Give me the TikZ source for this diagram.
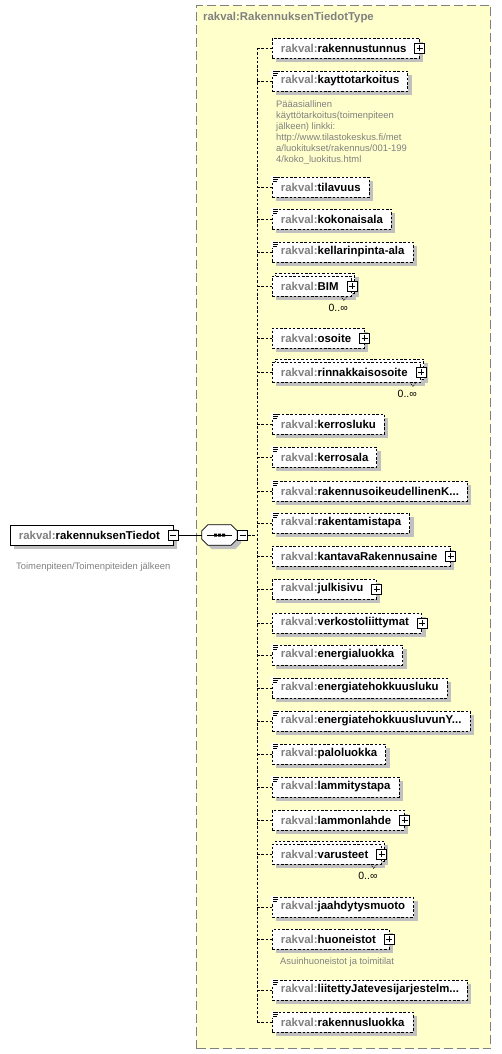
\documentclass[tikz,border=0pt]{standalone}
\usepackage{fontspec}
\setmainfont{Liberation Sans}
\usepackage{xcolor}
\usepackage{tikz}
\usetikzlibrary{positioning}
\definecolor{typebg}{RGB}{255,255,204}
\definecolor{nsgray}{RGB}{128,128,128}
\definecolor{shade}{RGB}{192,192,192}
\newcommand{\rk}{\textcolor{nsgray}{rakval:}}
\newcommand{\smark}[1]{%
  \fill[white] ([xshift=-1pt,yshift=1pt]#1.north west) rectangle ++(7,7);
  \draw[line width=0.7pt] ([xshift=1pt,yshift=-0.5pt]#1.north west) -- ++(5,0) ++(-5,2) -- ++(5,0) ++(-5,2) -- ++(4,0);}
\newcommand{\notch}[1]{%
  \draw[line width=0.6pt, dash pattern=on 1pt off 1pt] ([xshift=-11pt]#1.south east) -- ++(3,4) -- ++(3,-4);}

\begin{document}
\begin{tikzpicture}[
  x=1pt, y=-1pt,
  elfont/.style={font=\fontsize{11.4}{13.7}\selectfont\bfseries},
  docfont/.style={font=\fontsize{9.4}{11}\selectfont, text=nsgray},
  shadowed/.style={preaction={fill=shade, transform canvas={shift={(4pt,-4pt)}}}},
  elem/.style={rectangle, draw, dash pattern=on 2.5pt off 1.8pt, line width=0.8pt, fill=white, shadowed, minimum height=20pt, inner xsep=8.5pt, inner ysep=0pt, anchor=west, elfont},
  cplx/.style={execute at end node={\hspace{4.5pt}}},
  multi/.style={preaction={fill=shade, transform canvas={shift={(7pt,-1pt)}}}, preaction={draw, fill=white, transform canvas={shift={(3pt,3pt)}}}},
  rootbox/.style={rectangle, draw, line width=0.8pt, fill=white, shadowed, minimum height=20pt, inner xsep=8.5pt, inner ysep=0pt, anchor=west, elfont, cplx},
  typebox/.style={rectangle, draw=nsgray, fill=typebg, dash pattern=on 9pt off 4pt, line width=1pt, anchor=north west},
  seqbox/.style={rectangle, minimum width=35pt, minimum height=20pt, inner sep=0pt},
  octagon/.style={line width=0.8pt, fill=white, shadowed},
  pmbox/.style={rectangle, draw, solid, line width=0.8pt, fill=white, minimum size=10pt, inner sep=0pt},
  plusbox/.style={pmbox, path picture={\draw[line width=0.8pt] ([xshift=2pt]path picture bounding box.west) -- ([xshift=-2pt]path picture bounding box.east) ([yshift=2pt]path picture bounding box.south) -- ([yshift=-2pt]path picture bounding box.north);}},
  minusbox/.style={pmbox, path picture={\draw[line width=0.8pt] ([xshift=2pt]path picture bounding box.west) -- ([xshift=-2pt]path picture bounding box.east);}},
  doc/.style={anchor=north west, align=left, inner sep=0pt, docfont},
  mult/.style={anchor=north east, inner sep=0pt, font=\fontsize{10.5}{12}\selectfont},
  link/.style={dash pattern=on 2.5pt off 1.8pt, line width=0.8pt},
  wire/.style={line width=0.8pt},
]
  \useasboundingbox (0,0) rectangle (501,1054);
  \node[typebox, minimum width=294pt, minimum height=1043pt] (type) at (196,5) {};
  \node[anchor=west, elfont, text=nsgray, inner sep=0pt] (typetitle) at (203,18) {rakval:RakennuksenTiedotType};

  % root element and sequence
  \node[rootbox] (root) at (10,535) {\rk rakennuksenTiedot};
  \node[minusbox] (rootM) at (root.east) {};
  \node[doc] (rootDoc) at (16,562) {Toimenpiteen/Toimenpiteiden jälkeen};
  \node[seqbox] (seq) at (219.5,535) {};
  \draw[octagon] ([xshift=6pt]seq.north west) -- ([xshift=-6pt]seq.north east) -- ([yshift=-6pt]seq.north east)
    -- ([yshift=6pt]seq.south east) -- ([xshift=-6pt]seq.south east) -- ([xshift=6pt]seq.south west)
    -- ([yshift=6pt]seq.south west) -- ([yshift=-6pt]seq.north west) -- cycle;
  \draw[wire] ([xshift=5pt]seq.west) -- ([xshift=-5pt]seq.east);
  \fill ([xshift=-5.5pt,yshift=1.5pt]seq.center) rectangle ++(3,3) ++(1,-3) rectangle ++(3,3) ++(1,-3) rectangle ++(3,3);
  \node[minusbox, anchor=west] (seqM) at (seq.east) {};
  \coordinate (spine) at (257,535);

  % child elements
  \node[elem, cplx] (tunnus) at (272,48) {\rk rakennustunnus};
  \node[plusbox] (tunnusP) at (tunnus.east) {};
  \node[elem] (kaytto) at (272,81) {\rk kayttotarkoitus};
  \node[doc] (kayttoDoc) at (276,100) {Pääasiallinen\\käyttötarkoitus(toimenpiteen\\jälkeen) linkki:\\http://www.tilastokeskus.fi/met\\a/luokitukset/rakennus/001-199\\4/koko\_luokitus.html};
  \node[elem] (tilavuus) at (272,187) {\rk tilavuus};
  \node[elem] (kokala) at (272,219) {\rk kokonaisala};
  \node[elem] (kellari) at (272,252) {\rk kellarinpinta-ala};
  \node[elem, cplx, multi] (bim) at (272,286) {\rk BIM};
  \node[plusbox] (bimP) at (bim.east) {};
  \node[mult] (bimN) at ([xshift=-4pt,yshift=-8pt]bim.south east) {0..∞};
  \node[elem, cplx] (osoite) at (272,338) {\rk osoite};
  \node[plusbox] (osoiteP) at (osoite.east) {};
  \node[elem, cplx, multi] (rinnak) at (272,372) {\rk rinnakkaisosoite};
  \node[plusbox] (rinnakP) at (rinnak.east) {};
  \node[mult] (rinnakN) at ([xshift=-4pt,yshift=-8pt]rinnak.south east) {0..∞};
  \node[elem] (krsluku) at (272,424) {\rk kerrosluku};
  \node[elem] (krsala) at (272,457) {\rk kerrosala};
  \node[elem] (oikeus) at (272,491) {\rk rakennusoikeudellinenK...};
  \node[elem] (tapa) at (272,523) {\rk rakentamistapa};
  \node[elem, cplx] (kantava) at (272,556) {\rk kantavaRakennusaine};
  \node[plusbox] (kantavaP) at (kantava.east) {};
  \node[elem, cplx] (julki) at (272,589) {\rk julkisivu};
  \node[plusbox] (julkiP) at (julki.east) {};
  \node[elem, cplx] (verkosto) at (272,623) {\rk verkostoliittymat};
  \node[plusbox] (verkostoP) at (verkosto.east) {};
  \node[elem] (eluokka) at (272,655) {\rk energialuokka};
  \node[elem] (eluku) at (272,688) {\rk energiatehokkuusluku};
  \node[elem] (eluvun) at (272,721) {\rk energiatehokkuusluvunY...};
  \node[elem] (palo) at (272,754) {\rk paloluokka};
  \node[elem] (lammitys) at (272,787) {\rk lammitystapa};
  \node[elem, cplx] (lahde) at (272,820) {\rk lammonlahde};
  \node[plusbox] (lahdeP) at (lahde.east) {};
  \node[elem, cplx, multi] (varust) at (272,854) {\rk varusteet};
  \node[plusbox] (varustP) at (varust.east) {};
  \node[mult] (varustN) at ([xshift=-4pt,yshift=-8pt]varust.south east) {0..∞};
  \node[elem] (jaahd) at (272,907) {\rk jaahdytysmuoto};
  \node[elem, cplx] (huon) at (272,939) {\rk huoneistot};
  \node[plusbox] (huonP) at (huon.east) {};
  \node[doc] (huonDoc) at (280,957) {Asuinhuoneistot ja toimitilat};
  \node[elem] (jatevesi) at (272,990) {\rk liitettyJatevesijarjestelm...};
  \node[elem] (rluokka) at (272,1022) {\rk rakennusluokka};

  \foreach \n in {kaytto,tilavuus,kokala,kellari,krsluku,krsala,oikeus,tapa,eluokka,eluku,eluvun,palo,lammitys,jaahd,jatevesi,rluokka}
    \smark{\n};
  \notch{bim} \notch{rinnak} \notch{varust}

  % connectors
  \draw[wire] (rootM) -- (seq.west);
  \draw[link] (seqM) -- (spine);
  \draw[link] (spine |- tunnus.west) -- (spine |- rluokka.west);
  \foreach \n in {tunnus,kaytto,tilavuus,kokala,kellari,bim,osoite,rinnak,krsluku,krsala,oikeus,tapa,kantava,julki,verkosto,eluokka,eluku,eluvun,palo,lammitys,lahde,varust,jaahd,huon,jatevesi,rluokka}
    \draw[link] (spine |- \n.west) -- (\n.west);
\end{tikzpicture}
\end{document}
